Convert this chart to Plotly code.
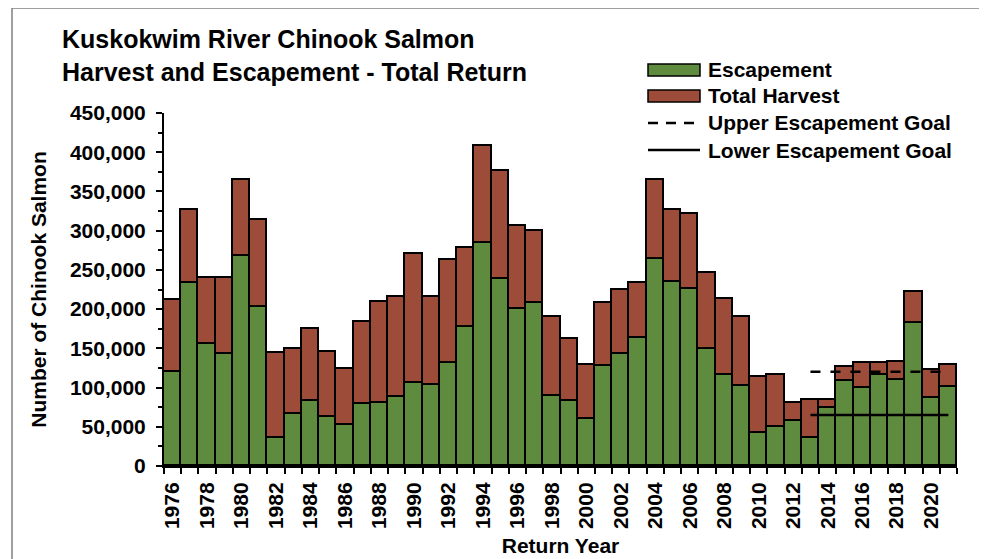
import plotly.graph_objects as go

years = list(range(1976, 2022))
escapement = [119600, 232900, 155800, 142600, 268200, 202200, 35800, 66400, 83000, 62600,
              51900, 78800, 80500, 88100, 106000, 103000, 130700, 177500, 284800, 238400,
              200100, 207300, 89800, 82600, 60000, 127700, 142200, 163500, 263900, 235000,
              226000, 149000, 115400, 101700, 42600, 49400, 57500, 36200, 73600, 108100,
              99600, 115400, 109800, 181800, 86800, 101300]
harvest = [91600, 93600, 83400, 96600, 96600, 111100, 107700, 82600, 91100, 82600,
           71600, 105100, 128900, 126900, 164300, 112800, 132000, 100900, 122600, 137100,
           106000, 92400, 100100, 78700, 68600, 79600, 82100, 69800, 100900, 91500,
           95000, 96600, 97500, 88200, 71100, 66000, 23400, 48500, 11100, 18300,
           31500, 15700, 22200, 39600, 36200, 27300]
goal_years = [2013, 2014, 2015, 2016, 2017, 2018, 2019, 2020, 2021]
upper_goal = [120000] * 9
lower_goal = [65000] * 9
xtick_years = list(range(1976, 2022, 2))
ytick_vals = list(range(0, 450001, 50000))
legend_labels = ["Escapement", "Total Harvest", "Upper Escapement Goal", "Lower Escapement Goal"]

FONT = "Arial, Liberation Sans, sans-serif"
GREEN = "#5F8B3F"
BROWN = "#9C4C38"

# page is offset by 8px body margin; plot area fixed in page pixels
PL, PR, PT, PB = 164, 957, 113, 466
W, H = 979, 551


def px(xp):
    return (xp - PL) / (PR - PL)


def py(yp):
    return (PB - yp) / (PB - PT)


fig = go.Figure()
fig.add_trace(go.Bar(x=years, y=escapement, name=legend_labels[0],
                     marker=dict(color=GREEN, line=dict(color="black", width=1.6))))
fig.add_trace(go.Bar(x=years, y=harvest, name=legend_labels[1],
                     marker=dict(color=BROWN, line=dict(color="black", width=1.6))))
fig.add_trace(go.Scatter(x=goal_years, y=upper_goal, mode="lines", name=legend_labels[2],
                         line=dict(color="black", width=2.5, dash="10px,10px")))
fig.add_trace(go.Scatter(x=goal_years, y=lower_goal, mode="lines", name=legend_labels[3],
                         line=dict(color="black", width=2.5)))

fig.update_layout(
    width=W, height=H,
    margin=dict(l=PL - 8, r=W - (PR - 8), t=PT - 8, b=H - (PB - 8)),
    barmode="stack", bargap=0,
    paper_bgcolor="white", plot_bgcolor="white",
    font=dict(family=FONT, color="black", size=21),
    showlegend=False,
    xaxis=dict(range=[1975.5, 2021.5], tickmode="array", tickvals=xtick_years,
               ticktext=[str(y) for y in xtick_years], tickangle=-90,
               ticks="outside", ticklen=6, tickcolor="rgba(0,0,0,0)",
               tickfont=dict(family=FONT, size=21, weight="bold"),
               minor=dict(tick0=1975.5, dtick=1, ticks="outside", ticklen=6,
                          tickcolor="black", tickwidth=2),
               showline=True, linecolor="black", linewidth=2, showgrid=False,
               zeroline=False, automargin=False,
               title=dict(text="<b>Return Year</b>", font=dict(family=FONT, size=21), standoff=10)),
    yaxis=dict(range=[0, 450000], tickmode="array", tickvals=ytick_vals,
               tickformat=",", ticks="outside", ticklen=6, tickwidth=2, tickcolor="black",
               ticklabelstandoff=6,
               tickfont=dict(family=FONT, size=21, weight="bold"),
               minor=dict(dtick=25000, ticks="outside", ticklen=4, tickcolor="black", tickwidth=2),
               showline=True, linecolor="black", linewidth=2, showgrid=False,
               zeroline=False, automargin=False,
               title=dict(text="<b>Number of Chinook Salmon</b>", font=dict(family=FONT, size=21), standoff=18)),
)

# Title
fig.add_annotation(text="<b>Kuskokwim River Chinook Salmon</b>", xref="paper", yref="paper",
                   x=px(60), y=py(39), xanchor="left", yanchor="middle",
                   showarrow=False, font=dict(family=FONT, size=25, color="black"))
fig.add_annotation(text="<b>Harvest and Escapement - Total Return</b>", xref="paper", yref="paper",
                   x=px(60), y=py(72), xanchor="left", yanchor="middle",
                   showarrow=False, font=dict(family=FONT, size=25, color="black"))

# Legend (drawn manually to match swatch shapes and spacing)
rows = [70, 96, 123, 150]
sw_x0, sw_x1 = 648, 700
fig.add_shape(type="rect", xref="paper", yref="paper", x0=px(sw_x0), x1=px(sw_x1),
              y0=py(rows[0] + 6), y1=py(rows[0] - 6), fillcolor=GREEN,
              line=dict(color="black", width=1.5))
fig.add_shape(type="rect", xref="paper", yref="paper", x0=px(sw_x0), x1=px(sw_x1),
              y0=py(rows[1] + 6), y1=py(rows[1] - 6), fillcolor=BROWN,
              line=dict(color="black", width=1.5))
fig.add_shape(type="line", xref="paper", yref="paper", x0=px(sw_x0), x1=px(sw_x1),
              y0=py(rows[2]), y1=py(rows[2]), line=dict(color="black", width=2.5, dash="10px,8px"))
fig.add_shape(type="line", xref="paper", yref="paper", x0=px(sw_x0), x1=px(sw_x1),
              y0=py(rows[3]), y1=py(rows[3]), line=dict(color="black", width=2.5))
for label, r in zip(legend_labels, rows):
    fig.add_annotation(text="<b>" + label + "</b>", xref="paper", yref="paper",
                       x=px(706), y=py(r), xanchor="left", yanchor="middle",
                       showarrow=False, font=dict(family=FONT, size=21, color="black"))

# Outer frame
fig.add_shape(type="rect", xref="paper", yref="paper",
              x0=px(12), x1=px(984), y0=py(600), y1=py(8),
              line=dict(color="#808080", width=1.5), fillcolor="rgba(0,0,0,0)", layer="below")

fig.write_html("out.html")
